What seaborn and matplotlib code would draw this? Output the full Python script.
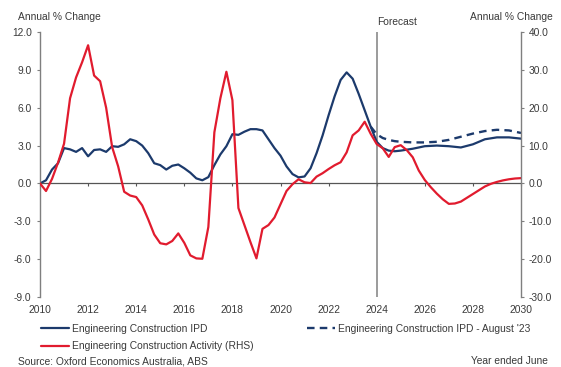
import matplotlib
matplotlib.use("Agg")
import matplotlib.pyplot as plt
from matplotlib.lines import Line2D
from matplotlib.ticker import FormatStrFormatter, MultipleLocator
import seaborn as sns

# Engineering Construction IPD, annual % change (left axis)
ipd_years = [2010.0, 2010.25, 2010.5, 2010.75, 2011.0, 2011.25, 2011.5, 2011.75,
             2012.0, 2012.25, 2012.5, 2012.75, 2013.0, 2013.25, 2013.5, 2013.75,
             2014.0, 2014.25, 2014.5, 2014.75, 2015.0, 2015.25, 2015.5, 2015.75,
             2016.0, 2016.25, 2016.5, 2016.75, 2017.0, 2017.25, 2017.5, 2017.75,
             2018.0, 2018.25, 2018.5, 2018.75, 2019.0, 2019.25, 2019.5, 2019.75,
             2020.0, 2020.25, 2020.5, 2020.75, 2021.0, 2021.25, 2021.5, 2021.75,
             2022.0, 2022.25, 2022.5, 2022.75, 2023.0, 2023.25, 2023.5, 2023.75,
             2024.0, 2024.25, 2024.5, 2024.75, 2025.0, 2025.5, 2026.0, 2026.5,
             2027.0, 2027.5, 2028.0, 2028.5, 2029.0, 2029.5, 2030.0]
ipd_values = [0.0, 0.25, 1.1, 1.6, 2.8, 2.7, 2.5, 2.8,
              2.15, 2.65, 2.7, 2.5, 2.95, 2.9, 3.1, 3.5,
              3.35, 3.0, 2.4, 1.6, 1.45, 1.1, 1.4, 1.5,
              1.2, 0.85, 0.4, 0.25, 0.5, 1.45, 2.3, 2.95,
              3.9, 3.85, 4.1, 4.3, 4.3, 4.2, 3.5, 2.8,
              2.2, 1.35, 0.74, 0.48, 0.55, 1.2, 2.4, 3.8,
              5.4, 6.9, 8.2, 8.8, 8.3, 7.1, 5.8, 4.5,
              3.3, 2.8, 2.6, 2.55, 2.6, 2.75, 2.95, 3.0,
              2.95, 2.85, 3.1, 3.5, 3.65, 3.65, 3.55]

# Previous forecast (August '23), left axis
aug23_years = [2023.75, 2024.0, 2024.25, 2024.5, 2024.75, 2025.0, 2025.5, 2026.0,
               2026.5, 2027.0, 2027.5, 2028.0, 2028.5, 2029.0, 2029.5, 2030.0]
aug23_values = [4.5, 3.9, 3.6, 3.45, 3.35, 3.3, 3.25, 3.25,
                3.3, 3.45, 3.7, 3.95, 4.15, 4.25, 4.2, 4.0]

# Engineering Construction Activity, annual % change (right axis)
act_years = [2010.0, 2010.25, 2010.5, 2010.75, 2011.0, 2011.25, 2011.5, 2011.75,
             2012.0, 2012.25, 2012.5, 2012.75, 2013.0, 2013.25, 2013.5, 2013.75,
             2014.0, 2014.25, 2014.5, 2014.75, 2015.0, 2015.25, 2015.5, 2015.75,
             2016.0, 2016.25, 2016.5, 2016.75, 2017.0, 2017.25, 2017.5, 2017.75,
             2018.0, 2018.25, 2018.5, 2018.75, 2019.0, 2019.25, 2019.5, 2019.75,
             2020.0, 2020.25, 2020.5, 2020.75, 2021.0, 2021.25, 2021.5, 2021.75,
             2022.0, 2022.25, 2022.5, 2022.75, 2023.0, 2023.25, 2023.5, 2023.75,
             2024.0, 2024.25, 2024.5, 2024.75, 2025.0, 2025.25, 2025.5, 2025.75,
             2026.0, 2026.25, 2026.5, 2026.75, 2027.0, 2027.25, 2027.5, 2027.75,
             2028.0, 2028.25, 2028.5, 2028.75, 2029.0, 2029.25, 2029.5, 2029.75,
             2030.0]
act_values = [0.0, -2.0, 1.2, 5.5, 10.5, 22.5, 28.0, 32.0,
              36.5, 28.5, 27.0, 20.0, 9.6, 4.5, -2.2, -3.2,
              -3.6, -5.8, -9.5, -13.5, -15.8, -16.1, -15.2, -13.2,
              -15.7, -19.0, -19.8, -19.9, -11.5, 13.5, 22.5, 29.5,
              22.0, -6.5, -11.0, -15.5, -19.8, -12.0, -11.0, -9.0,
              -5.5, -2.0, -0.2, 1.1, 0.3, 0.1, 1.8, 2.7,
              3.8, 4.8, 5.6, 8.2, 12.7, 14.0, 16.3, 13.1,
              10.4, 9.3, 7.0, 9.6, 10.1, 8.8, 6.9, 3.4,
              0.9, -1.0, -2.7, -4.2, -5.4, -5.3, -4.8, -3.8,
              -2.8, -1.8, -0.8, -0.1, 0.4, 0.8, 1.1, 1.3,
              1.4]

year_ticks = list(range(2010, 2031, 2))
forecast_start = 2024

sns.set_style("white")
plt.rcParams["font.family"] = ["Liberation Sans", "DejaVu Sans"]
plt.rcParams["font.size"] = 7.4

FS = 7.4
TEXT = "#3a3a3a"
AXIS = "#7f7f7f"
BLUE = "#1c3a6c"
RED = "#e11b2e"

fig = plt.figure(figsize=(5.61, 3.67), dpi=100)
ax = fig.add_axes([40 / 561, 1 - 297 / 367, 481 / 561, 265 / 367])
ax2 = ax.twinx()

sns.lineplot(x=ipd_years, y=ipd_values, ax=ax, color=BLUE, linewidth=1.6,
             errorbar=None, legend=False)
sns.lineplot(x=aug23_years, y=aug23_values, ax=ax, color=BLUE, linewidth=1.7,
             linestyle=(0, (3.2, 2.2)), errorbar=None, legend=False)
sns.lineplot(x=act_years, y=act_values, ax=ax2, color=RED, linewidth=1.6,
             errorbar=None, legend=False)

# axes ranges and ticks
ax.set_xlim(2010, 2030)
ax.set_ylim(-9, 12)
ax2.set_ylim(-30, 40)
ax.yaxis.set_major_locator(MultipleLocator(3))
ax.yaxis.set_major_formatter(FormatStrFormatter("%.1f"))
ax2.yaxis.set_major_locator(MultipleLocator(10))
ax2.yaxis.set_major_formatter(FormatStrFormatter("%.1f"))
ax.set_xticks(year_ticks)
ax.set_xlabel("")
ax.set_ylabel("")
ax2.set_ylabel("")

for a in (ax, ax2):
    a.spines["top"].set_visible(False)
ax.spines["right"].set_visible(False)
ax2.spines["left"].set_visible(False)
ax2.spines["bottom"].set_visible(False)

ax.spines["left"].set_color(AXIS)
ax.spines["left"].set_linewidth(1.0)
ax2.spines["right"].set_color(AXIS)
ax2.spines["right"].set_linewidth(1.0)

# zero line carries the year tick marks
ax.spines["bottom"].set_position(("data", 0))
ax.spines["bottom"].set_color("#555555")
ax.spines["bottom"].set_linewidth(0.9)
ax.tick_params(axis="x", direction="out", length=2.5, width=0.8,
               color="#555555", labelbottom=False, bottom=True)
ax.tick_params(axis="y", direction="out", length=2.5, width=0.8, color=AXIS,
               labelcolor=TEXT, labelsize=FS, pad=3.5, left=True)
ax2.tick_params(axis="y", direction="out", length=2.5, width=0.8, color=AXIS,
                labelcolor=TEXT, labelsize=FS, pad=3, right=True)

# year labels along the bottom of the plot area
sec = ax.secondary_xaxis("bottom")
sec.set_xticks(year_ticks)
sec.set_xticklabels([str(y) for y in year_ticks])
sec.spines["bottom"].set_visible(False)
sec.tick_params(length=0, pad=5.5, labelsize=FS, labelcolor=TEXT)

# forecast divider
ax.axvline(forecast_start, color="#808080", linewidth=1.1, zorder=1)
fig.text(377 / 561, 1 - 22 / 367, "Forecast", fontsize=FS, color=TEXT,
         ha="left", va="center")

fig.text(18 / 561, 1 - 17 / 367, "Annual % Change", fontsize=FS, color=TEXT,
         ha="left", va="center")
fig.text(553 / 561, 1 - 17 / 367, "Annual % Change", fontsize=FS, color=TEXT,
         ha="right", va="center")

handles = [
    Line2D([], [], color=BLUE, linewidth=1.6),
    Line2D([], [], color=RED, linewidth=1.6),
    Line2D([], [], color=BLUE, linewidth=1.7, linestyle=(0, (3.2, 2.2))),
]
labels = [
    "Engineering Construction IPD",
    "Engineering Construction Activity (RHS)",
    "Engineering Construction IPD - August '23",
]
fig.legend(handles, labels, loc="upper left",
           bbox_to_anchor=(41 / 561, 1 - 324 / 367), ncol=2, frameon=False,
           fontsize=FS, labelcolor=TEXT, handlelength=2.7, handletextpad=0.3,
           columnspacing=5.2, labelspacing=0.7, borderaxespad=0,
           borderpad=0)

fig.text(18 / 561, 1 - 361 / 367, "Source: Oxford Economics Australia, ABS",
         fontsize=FS, color=TEXT, ha="left", va="center")
fig.text(548 / 561, 1 - 361 / 367, "Year ended June", fontsize=FS, color=TEXT,
         ha="right", va="center")

fig.savefig("out.png", dpi=100)
